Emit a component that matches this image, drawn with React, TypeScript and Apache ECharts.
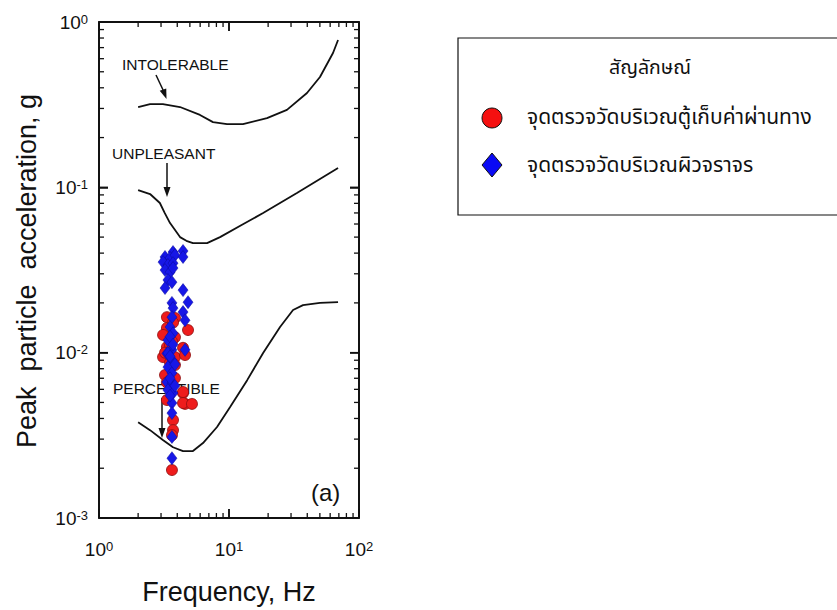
import React, { useEffect, useRef } from "react";
import * as echarts from "echarts";

// ---------- data ----------
const majorX = [1, 10, 100];
const majorY = [0.001, 0.01, 0.1, 1];
const minorMultipliers = [2, 3, 4, 5, 6, 7, 8, 9];
const xDecades = [1, 10];
const yDecades = [0.001, 0.01, 0.1];

const intolerableFreq = [2.0, 2.47, 3.1, 4.2, 5.98, 7.53, 9.66, 12.8, 19.6, 27.9, 39.8, 50.1, 63.1, 69];
const intolerableAcc = [0.306, 0.319, 0.319, 0.306, 0.274, 0.248, 0.241, 0.241, 0.262, 0.294, 0.372, 0.465, 0.649, 0.778];

const unpleasantFreq = [2.0, 2.47, 2.94, 3.2, 3.52, 4.2, 4.7, 5.28, 6.78, 8.53, 12.5, 18.3, 33.3, 69];
const unpleasantAcc = [0.0963, 0.0911, 0.0804, 0.07, 0.0608, 0.05, 0.0475, 0.046, 0.046, 0.05, 0.0592, 0.0699, 0.0924, 0.131];

const perceptibleFreq = [2.0, 2.47, 3.1, 3.71, 4.43, 5.28, 6.31, 8.09, 10.2, 13.8, 18.3, 24.7, 31.1, 37.1, 50.1, 69];
const perceptibleAcc = [0.0038, 0.0034, 0.00296, 0.00268, 0.00254, 0.00254, 0.00284, 0.00355, 0.00469, 0.00682, 0.00995, 0.0143, 0.0181, 0.0194, 0.02, 0.0202];

const tollFreq = [3.33, 3.84, 3.33, 4.84, 3.11, 3.84, 3.33, 4.43, 3.11, 3.84, 4.59, 4.43, 3.84, 3.22, 3.84, 4.43, 4.59, 4.43, 5.19, 3.33, 3.71, 3.71, 3.64, 3.64, 3.64, 3.52, 3.22, 3.52, 3.33, 3.71];
const tollAcc = [0.0164, 0.0162, 0.0141, 0.0137, 0.0128, 0.0124, 0.0108, 0.0107, 0.0094, 0.0094, 0.00967, 0.0057, 0.00841, 0.00732, 0.00702, 0.00578, 0.0049, 0.00496, 0.0049, 0.00517, 0.00391, 0.0034, 0.00317, 0.00195, 0.0117, 0.0111, 0.01, 0.0087, 0.0066, 0.0152];

const roadFreq = [3.71, 4.43, 3.22, 3.52, 3.84, 4.43, 3.11, 3.39, 3.71, 3.22, 3.52, 3.71, 3.39, 3.64, 3.22, 4.43, 3.64, 4.84, 3.71, 4.43, 3.64, 4.59, 3.52, 3.71, 3.39, 4.59, 3.64, 3.33, 3.39, 3.64, 3.39, 3.64, 3.33, 3.64, 3.39, 3.71, 3.64, 3.64, 3.64, 3.64, 3.52, 3.71, 3.52, 3.84, 3.52, 3.84, 3.52];
const roadAcc = [0.0406, 0.0412, 0.0379, 0.0374, 0.0389, 0.0379, 0.0353, 0.0339, 0.0348, 0.0316, 0.0307, 0.0325, 0.0275, 0.0267, 0.0246, 0.0239, 0.02, 0.0202, 0.0186, 0.0176, 0.0164, 0.0157, 0.0143, 0.0131, 0.0119, 0.0104, 0.0104, 0.0099, 0.00995, 0.00902, 0.00818, 0.00753, 0.00664, 0.00655, 0.00594, 0.0057, 0.00496, 0.00431, 0.00309, 0.0023, 0.0125, 0.0112, 0.0095, 0.0085, 0.007, 0.0063, 0.0055];

const curveLabels = ["INTOLERABLE", "UNPLEASANT", "PERCEPTIBLE"];
const legendTitle = "สัญลักษณ์";
const tollName = "จุดตรวจวัดบริเวณตู้เก็บค่าผ่านทาง";
const roadName = "จุดตรวจวัดบริเวณผิวจราจร";
const xTitle = "Frequency, Hz";
const yTitle = "Peak  particle  acceleration, g";
const panelLabel = "(a)";

// ---------- style ----------
const latin = "'Liberation Sans', Arial, Helvetica, sans-serif";
const thai = "'Noto Sans Thai', 'Noto Sans Thai UI', Tahoma, 'Loma', 'Garuda', 'Noto Sans', sans-serif";
const ink = "#111";
const GRID = { left: 99, top: 22, width: 260, height: 496 };
const X_RANGE = [1, 100];
const Y_RANGE = [0.001, 1];

const pairs = (xs: number[], ys: number[]) => xs.map((x, i) => [x, ys[i]]);

const expFormatter = (v: number) => `{b|10}{s|${Math.round(Math.log10(v))}}`;
const labelRich = {
  b: { fontSize: 19, lineHeight: 19, fontFamily: latin, color: ink, verticalAlign: "bottom" },
  s: { fontSize: 13, lineHeight: 13, fontFamily: latin, color: ink, verticalAlign: "top", padding: [0, 0, 13, 0] },
};

const axisCommon = {
  type: "log",
  logBase: 10,
  axisLine: { show: true, onZero: false, lineStyle: { color: ink, width: 1.8 } },
  axisTick: { show: true, inside: true, length: 9, lineStyle: { color: ink, width: 1.5 } },
  splitLine: { show: false },
  minorTick: { show: false },
};

// log mapping of the grid box, same as the axes' own log scales
const lx = (v: number) =>
  GRID.left + (GRID.width * (Math.log10(v) - Math.log10(X_RANGE[0]))) / (Math.log10(X_RANGE[1]) - Math.log10(X_RANGE[0]));
const ly = (v: number) =>
  GRID.top + GRID.height - (GRID.height * (Math.log10(v) - Math.log10(Y_RANGE[0]))) / (Math.log10(Y_RANGE[1]) - Math.log10(Y_RANGE[0]));

export default function App() {
  const ref = useRef<HTMLDivElement>(null);

  useEffect(() => {
    if (!ref.current) return;
    const chart = echarts.init(ref.current, undefined, { renderer: "svg" });

    const arrowHead = (x: number, y: number, dx: number, dy: number) => {
      const len = Math.hypot(dx, dy);
      const ux = dx / len, uy = dy / len;
      const L = 10, W = 3.5;
      return {
        type: "polygon",
        shape: {
          points: [
            [x, y],
            [x - ux * L - uy * W, y - uy * L + ux * W],
            [x - ux * L + uy * W, y - uy * L - ux * W],
          ],
        },
        style: { fill: ink },
      };
    };

    // frame and ticks
    const xl = lx(X_RANGE[0]), xr = lx(X_RANGE[1]);
    const yb = ly(Y_RANGE[0]), yt = ly(Y_RANGE[1]);
    const frameStyle = { stroke: ink, lineWidth: 1.8 };
    const majorStyle = { stroke: ink, lineWidth: 1.5 };
    const minorStyle = { stroke: ink, lineWidth: 1.3 };
    const deco: any[] = [
      { type: "line", z: 100, shape: { x1: xl, y1: yb, x2: xr, y2: yb }, style: frameStyle },
      { type: "line", z: 100, shape: { x1: xl, y1: yt, x2: xr, y2: yt }, style: frameStyle },
      { type: "line", z: 100, shape: { x1: xl, y1: yt, x2: xl, y2: yb }, style: frameStyle },
      { type: "line", z: 100, shape: { x1: xr, y1: yt, x2: xr, y2: yb }, style: frameStyle },
    ];
    const vTick = (x: number, len: number, st: any) => {
      deco.push({ type: "line", z: 100, shape: { x1: x, y1: yb, x2: x, y2: yb - len }, style: st });
      deco.push({ type: "line", z: 100, shape: { x1: x, y1: yt, x2: x, y2: yt + len }, style: st });
    };
    const hTick = (y: number, len: number, st: any) => {
      deco.push({ type: "line", z: 100, shape: { x1: xl, y1: y, x2: xl + len, y2: y }, style: st });
      deco.push({ type: "line", z: 100, shape: { x1: xr, y1: y, x2: xr - len, y2: y }, style: st });
    };
    majorX.forEach((v) => vTick(lx(v), 9, majorStyle));
    majorY.forEach((v) => hTick(ly(v), 9, majorStyle));
    xDecades.forEach((d) => minorMultipliers.forEach((m) => vTick(lx(d * m), 5, minorStyle)));
    yDecades.forEach((d) => minorMultipliers.forEach((m) => hTick(ly(d * m), 5, minorStyle)));

    const graphic: any[] = [
      // axis titles
      { type: "text", x: 229, y: 592, style: { text: xTitle, fontSize: 27, fontFamily: latin, fill: ink, align: "center", verticalAlign: "middle" } },
      { type: "text", x: 27, y: 271, rotation: Math.PI / 2, style: { text: yTitle, fontSize: 27, fontFamily: latin, fill: ink, align: "center", verticalAlign: "middle" } },
      // curve annotations
      { type: "text", left: 122, top: 56, style: { text: curveLabels[0], fontSize: 15.5, fontFamily: latin, fill: ink } },
      { type: "line", shape: { x1: 156, y1: 75, x2: 164, y2: 92 }, style: { stroke: ink, lineWidth: 1.5 } },
      arrowHead(166.5, 99, 9, 24),
      { type: "text", left: 112, top: 145, style: { text: curveLabels[1], fontSize: 15.5, fontFamily: latin, fill: ink } },
      { type: "line", shape: { x1: 167, y1: 163, x2: 167, y2: 190 }, style: { stroke: ink, lineWidth: 1.5 } },
      arrowHead(167, 197, 0, 1),
      { type: "text", left: 113, top: 380, style: { text: curveLabels[2], fontSize: 15.5, fontFamily: latin, fill: ink } },
      { type: "line", shape: { x1: 162, y1: 398, x2: 162, y2: 430 }, style: { stroke: ink, lineWidth: 1.5 } },
      arrowHead(162, 438, 0, 1),
      { type: "text", left: 311, top: 480, style: { text: panelLabel, fontSize: 24, fontFamily: latin, fill: ink } },
      // legend box
      { type: "rect", shape: { x: 458, y: 38, width: 420, height: 177 }, style: { fill: "#fff", stroke: ink, lineWidth: 1.2 } },
      { type: "text", x: 650, y: 68, style: { text: legendTitle, fontSize: 19.5, fontFamily: thai, fill: ink, align: "center", verticalAlign: "middle" } },
      { type: "circle", shape: { cx: 492, cy: 118, r: 10 }, style: { fill: "#f51010", stroke: ink, lineWidth: 1 } },
      { type: "text", x: 527, y: 117, style: { text: tollName, fontSize: 21, fontFamily: thai, fill: ink, align: "left", verticalAlign: "middle" } },
      { type: "polygon", shape: { points: [[492, 153], [502, 165], [492, 177], [482, 165]] }, style: { fill: "#0a0af5", stroke: ink, lineWidth: 1 } },
      { type: "text", x: 527, y: 165, style: { text: roadName, fontSize: 21, fontFamily: thai, fill: ink, align: "left", verticalAlign: "middle" } },
      ...deco,
    ];

    const curve = (name: string, xs: number[], ys: number[]) => ({
      type: "line",
      name,
      data: pairs(xs, ys),
      symbol: "none",
      lineStyle: { color: ink, width: 1.8 },
    });

    chart.setOption({
      animation: false,
      backgroundColor: "#fff",
      grid: { ...GRID },
      xAxis: [
        { ...axisCommon, min: X_RANGE[0], max: X_RANGE[1], position: "bottom", axisLabel: { margin: 22, formatter: expFormatter, rich: labelRich } },
        { ...axisCommon, min: X_RANGE[0], max: X_RANGE[1], position: "top", axisLabel: { show: false } },
      ],
      yAxis: [
        { ...axisCommon, min: Y_RANGE[0], max: Y_RANGE[1], position: "left", axisLabel: { margin: 11, formatter: expFormatter, rich: labelRich } },
        { ...axisCommon, min: Y_RANGE[0], max: Y_RANGE[1], position: "right", axisLabel: { show: false } },
      ],
      series: [
        curve(curveLabels[0], intolerableFreq, intolerableAcc),
        curve(curveLabels[1], unpleasantFreq, unpleasantAcc),
        curve(curveLabels[2], perceptibleFreq, perceptibleAcc),
        {
          type: "scatter", name: tollName, data: pairs(tollFreq, tollAcc), symbol: "circle", symbolSize: 11,
          itemStyle: { color: "#ee1c1c", borderColor: "#8a0f0f", borderWidth: 0.8, opacity: 1 }, z: 3,
        },
        {
          type: "scatter", name: roadName, data: pairs(roadFreq, roadAcc), symbol: "diamond", symbolSize: [10, 13],
          itemStyle: { color: "#1717e6", borderColor: "#0a0a9a", borderWidth: 0.5, opacity: 1 }, z: 4,
        },
      ],
      graphic,
    });

    return () => chart.dispose();
  }, []);

  return <div ref={ref} style={{ position: "absolute", left: 0, top: 0, width: 837, height: 610 }} />;
}
